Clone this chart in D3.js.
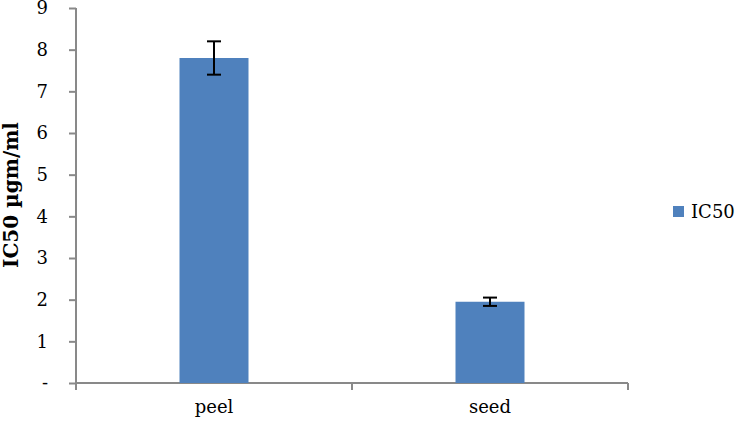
<!DOCTYPE html>
<html>
<head>
<meta charset="utf-8">
<script src="https://cdn.jsdelivr.net/npm/d3@7"></script>
<style>
  body { margin: 0; background: #fff; }
  text { font-family: "DejaVu Serif", "Liberation Serif", serif; }
</style>
</head>
<body>
<svg id="svg" width="735" height="425"></svg>
<script>
const categories = ['peel', 'seed'];
const values = [7.8, 1.95];
const errors = [0.4, 0.1];
const yTicks = [0, 1, 2, 3, 4, 5, 6, 7, 8, 9];
const seriesName = 'IC50';

const margin = { top: 8, left: 76, right: 107, bottom: 42 };
const width = 735 - margin.left - margin.right;
const height = 425 - margin.top - margin.bottom;

const svg = d3.select('#svg');
const chart = svg.append('g')
  .attr('transform', 'translate(' + margin.left + ',' + margin.top + ')');

// x axis
const xScale = d3.scaleBand()
  .range([0, width])
  .domain(categories)
  .paddingInner(0.75)
  .paddingOuter(0.375);

const band = width / categories.length;

// y axis
const yScale = d3.scaleLinear()
  .range([height, 0])
  .domain([0, 9]);

const yAxis = chart.append('g')
  .call(d3.axisLeft(yScale)
    .tickValues(yTicks)
    .tickSize(7)
    .tickPadding(21)
    .tickFormat(d => d === 0 ? '-' : d));
yAxis.selectAll('line, path').attr('stroke', '#898989').attr('stroke-width', 2);
yAxis.select('path').attr('d', 'M0,' + height + 'V0');
yAxis.selectAll('text').style('font-size', '18px').attr('fill', '#000');

const xAxis = chart.append('g')
  .attr('transform', 'translate(0,' + height + ')');
xAxis.append('line')
  .attr('x1', 0).attr('x2', width)
  .attr('stroke', '#898989').attr('stroke-width', 2);
xAxis.selectAll('.tk')
  .data(d3.range(categories.length + 1))
  .enter().append('line')
  .attr('x1', i => i * band).attr('x2', i => i * band)
  .attr('y1', 0).attr('y2', 7)
  .attr('stroke', '#898989').attr('stroke-width', 2);
xAxis.selectAll('.lbl')
  .data(categories)
  .enter().append('text')
  .attr('x', d => xScale(d) + xScale.bandwidth() / 2)
  .attr('y', 30)
  .attr('text-anchor', 'middle')
  .style('font-size', '18px')
  .text(d => d);

// bars
chart.selectAll('.bar')
  .data(categories)
  .enter().append('rect')
  .attr('class', 'bar')
  .attr('x', d => xScale(d))
  .attr('y', (d, i) => yScale(values[i]))
  .attr('width', xScale.bandwidth())
  .attr('height', (d, i) => height - yScale(values[i]))
  .style('fill', '#4f81bd');

// error bars
const err = chart.selectAll('.err')
  .data(categories)
  .enter().append('g')
  .attr('transform', d => 'translate(' + (xScale(d) + xScale.bandwidth() / 2) + ',0)');
err.append('line')
  .attr('y1', (d, i) => yScale(values[i] + errors[i]))
  .attr('y2', (d, i) => yScale(values[i] - errors[i]))
  .attr('stroke', '#000').attr('stroke-width', 2);
err.append('line')
  .attr('x1', -7).attr('x2', 7)
  .attr('y1', (d, i) => yScale(values[i] + errors[i]))
  .attr('y2', (d, i) => yScale(values[i] + errors[i]))
  .attr('stroke', '#000').attr('stroke-width', 2);
err.append('line')
  .attr('x1', -7).attr('x2', 7)
  .attr('y1', (d, i) => yScale(values[i] - errors[i]))
  .attr('y2', (d, i) => yScale(values[i] - errors[i]))
  .attr('stroke', '#000').attr('stroke-width', 2);

// y title
svg.append('text')
  .attr('transform', 'translate(18,195) rotate(-90)')
  .attr('text-anchor', 'middle')
  .style('font-size', '20px')
  .style('font-weight', 'bold')
  .text('IC50 µgm/ml');

// legend
const legend = svg.append('g').attr('transform', 'translate(673,206)');
legend.append('rect')
  .attr('width', 11).attr('height', 11)
  .style('fill', '#4f81bd');
legend.append('text')
  .attr('x', 18).attr('y', 12)
  .style('font-size', '18px')
  .text(seriesName);
</script>
</body>
</html>
